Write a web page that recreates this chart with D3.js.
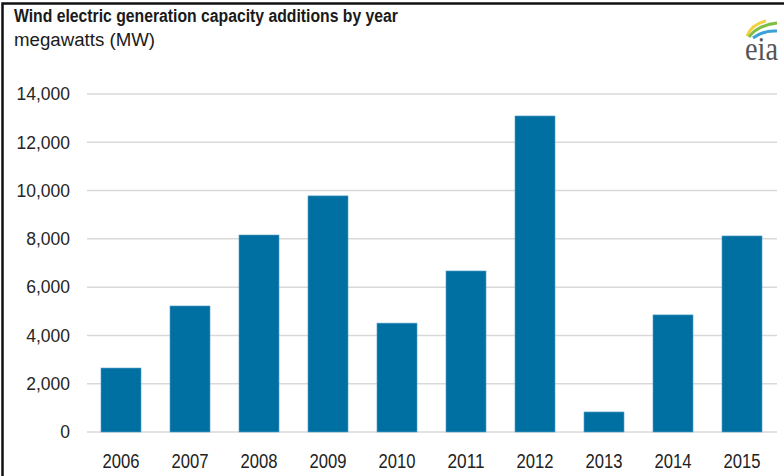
<!DOCTYPE html>
<meta charset="utf-8">
<style>
body { margin: 0; background: #fff; }
text { font-family: "Liberation Sans", Arial, sans-serif; }
.grid line { stroke: #d9d9d9; stroke-width: 1.5px; }
.bar { fill: #006fa1; stroke: #5aa3c9; stroke-width: 0.6px; }
.y-label { font-size: 17.5px; fill: #262626; }
.x-label { font-size: 20px; fill: #222; }
</style>
<svg id="chart" width="784" height="476"></svg>
<script src="https://cdn.jsdelivr.net/npm/d3@7"></script>
<script>
var years = ["2006", "2007", "2008", "2009", "2010", "2011", "2012", "2013", "2014", "2015"];
var capacity = [2650, 5220, 8160, 9780, 4510, 6670, 13090, 830, 4850, 8120];
var yTicks = [0, 2000, 4000, 6000, 8000, 10000, 12000, 14000];

var svg = d3.select("#chart");

// frame (only left and top edges visible in the original)
svg.append("rect")
    .attr("x", 2.5).attr("y", 3.5)
    .attr("width", 790).attr("height", 490)
    .attr("fill", "none")
    .attr("stroke", "#111")
    .attr("stroke-width", 2.5);

svg.append("text")
    .attr("x", 14).attr("y", 22)
    .style("font-size", "18px")
    .style("font-weight", "bold")
    .style("fill", "#1a1a1a")
    .attr("textLength", 384)
    .attr("lengthAdjust", "spacingAndGlyphs")
    .text("Wind electric generation capacity additions by year");

svg.append("text")
    .attr("x", 14).attr("y", 46)
    .style("font-size", "18px")
    .style("fill", "#1a1a1a")
    .attr("textLength", 141)
    .attr("lengthAdjust", "spacingAndGlyphs")
    .text("megawatts (MW)");

var x = d3.scaleBand().domain(years).range([86.5, 776.5]).paddingInner(0.42).paddingOuter(0.21);
var y = d3.scaleLinear().domain([0, 14000]).range([432, 94]);

svg.append("g").attr("class", "grid")
  .selectAll("line")
  .data(yTicks)
  .enter().append("line")
    .attr("x1", 87).attr("x2", 777)
    .attr("y1", function(d) { return y(d); })
    .attr("y2", function(d) { return y(d); });

svg.append("g")
  .selectAll("text")
  .data(yTicks)
  .enter().append("text")
    .attr("class", "y-label")
    .attr("x", 70)
    .attr("y", function(d) { return y(d); })
    .attr("dy", "0.36em")
    .attr("text-anchor", "end")
    .text(function(d) { return d3.format(",")(d); });

svg.append("g")
  .selectAll("rect")
  .data(capacity)
  .enter().append("rect")
    .attr("class", "bar")
    .attr("x", function(d, i) { return x(years[i]); })
    .attr("width", x.bandwidth())
    .attr("y", function(d) { return y(d); })
    .attr("height", function(d) { return y(0) - y(d); });

svg.append("g")
  .selectAll("text")
  .data(years)
  .enter().append("text")
    .attr("class", "x-label")
    .attr("x", function(d) { return x(d) + x.bandwidth() / 2 - 18.5; })
    .attr("y", 468)
    .attr("textLength", 37)
    .attr("lengthAdjust", "spacingAndGlyphs")
    .text(function(d) { return d; });

// eia logo
var logo = svg.append("g");
logo.append("path").attr("d", "M747,36 Q752,24 766,21").attr("fill", "none").attr("stroke", "#f3cf3b").attr("stroke-width", 3);
logo.append("path").attr("d", "M749,37 Q758,25 777,23").attr("fill", "none").attr("stroke", "#7dbf45").attr("stroke-width", 3);
logo.append("path").attr("d", "M753,38 Q764,30 777,31").attr("fill", "none").attr("stroke", "#3aa0d8").attr("stroke-width", 3);
logo.append("text")
    .attr("x", 745).attr("y", 60)
    .style("font-family", "'Liberation Serif', serif")
    .style("font-size", "34px")
    .style("fill", "#555")
    .attr("textLength", 33)
    .attr("lengthAdjust", "spacingAndGlyphs")
    .text("eia");
</script>
